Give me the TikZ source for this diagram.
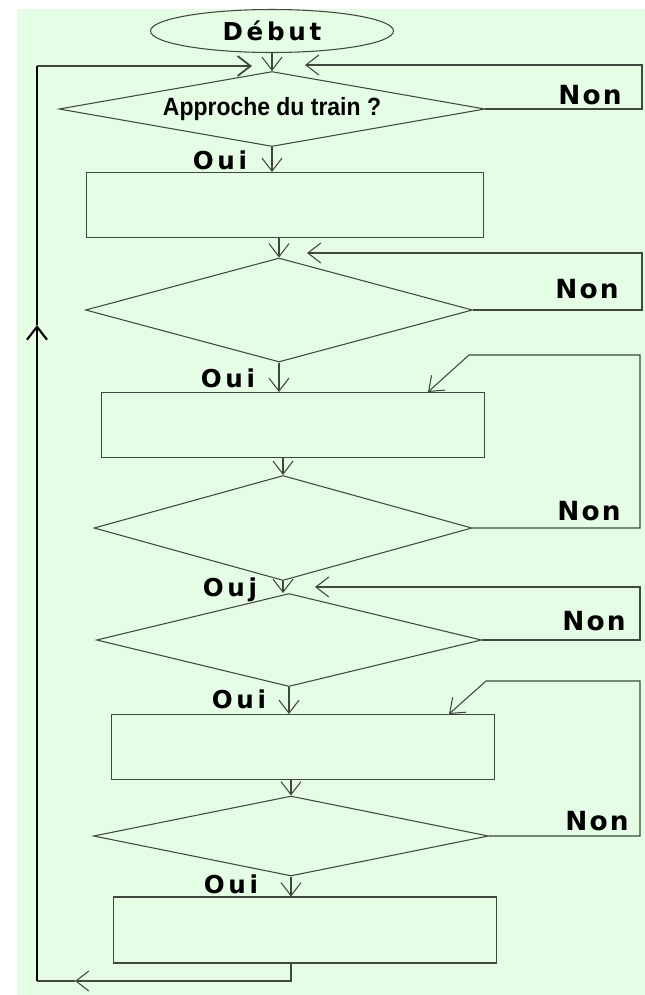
\documentclass[tikz,border=0pt]{standalone}
\usepackage{fontspec}
\setmainfont{Liberation Sans}
\newfontfamily\ouifont{DejaVu Sans Bold}[LetterSpace=15]
\newfontfamily\nonfont{DejaVu Sans Bold}[LetterSpace=8]
\usetikzlibrary{shapes.geometric,arrows.meta}
\definecolor{fond}{RGB}{229,252,229}
\definecolor{trait}{RGB}{62,72,62}

\begin{document}
\begin{tikzpicture}[x=0.02cm,y=-0.02cm,
    >={Straight Barb[length=2.6mm,width=4mm]},
    fl/.style={draw=trait,line width=0.6pt},
    spine/.style={draw=black,line width=1.2pt},
    test/.style={diamond,fl,inner sep=0pt,aspect=5},
    bloc/.style={rectangle,fl,inner sep=0pt,minimum height=1.3cm},
    oui/.style={inner sep=0pt,font=\ouifont\fontsize{14pt}{15pt}\selectfont},
    non/.style={inner sep=0pt,font=\nonfont\fontsize{15pt}{16pt}\selectfont}]
      \useasboundingbox (0,0) rectangle (645,995);
      \fill[fond] (17,9) rectangle (645,995);
      % debut et tests
      \node[ellipse,fl,inner sep=0pt,minimum width=4.86cm,minimum height=0.86cm,
        font=\ouifont\fontsize{14pt}{15pt}\selectfont] at (272,31) (debut) {Début};
      \node[test,minimum width=8.52cm,minimum height=1.5cm,
        font=\bfseries\fontsize{14.2pt}{16pt}\selectfont] at (272,109) (q1)
        {\scalebox{0.92}[1]{Approche du train ?}};
      \node[bloc,minimum width=7.96cm] at (285,205) (r1) {};
      \node[test,minimum width=7.74cm,minimum height=2.08cm] at (279,310) (q2) {};
      \node[bloc,minimum width=7.66cm] at (293,425) (r2) {};
      \node[test,minimum width=7.56cm,minimum height=2.1cm] at (283,528) (q3) {};
      \node[test,minimum width=7.7cm,minimum height=1.86cm] at (289,640) (q4) {};
      \node[bloc,minimum width=7.66cm] at (303,747) (r3) {};
      \node[test,minimum width=7.9cm,minimum height=1.6cm] at (291,836) (q5) {};
      \node[bloc,minimum width=7.68cm,minimum height=1.32cm] at (305,930) (r4) {};
      % oui / non
      \node[oui] at (220,160) (o1) {Oui};
      \node[oui] at (228,378) (o2) {Oui};
      \node[oui] at (230,590) (o3) {Ouj};
      \node[oui] at (239,699) (o4) {Oui};
      \node[oui] at (231,884) (o5) {Oui};
      \node[non] at (590,95) (n1) {Non};
      \node[non] at (587,289) (n2) {Non};
      \node[non] at (589,511) (n3) {Non};
      \node[non] at (594,621) (n4) {Non};
      \node[non] at (597,821) (n5) {Non};
      % points de retour
      \coordinate (lt) at (37,66);
      \coordinate (lup) at (37,325);
      \coordinate (lb) at (37,981);
      \coordinate (ret) at (75,981);
      \coordinate (jl) at (252,66);
      \coordinate (jr) at (305,65);
      \coordinate (c1) at (642,65);
      \coordinate (c2) at (642,253);
      \coordinate (j2) at (307,253);
      \coordinate (c3) at (640,355);
      \coordinate (d3) at (469,355);
      \coordinate (t3) at (428,392);
      \coordinate (c4) at (640,587);
      \coordinate (j4) at (315,587);
      \coordinate (c5) at (640,681);
      \coordinate (d5) at (486,681);
      \coordinate (t5) at (449,714);
      % fleches
      \path[fl,->] (debut) -- (q1);
      \path[fl,->] (q1.south) -- (q1.south |- r1.north);
      \path[fl,->] (r1.south -| q2.north) -- (q2.north);
      \path[fl,->] (q2.south) -- (q2.south |- r2.north);
      \path[fl,->] (r2.south -| q3.north) -- (q3.north);
      \path[fl,->] (q3.south) -- (q3.south |- q4.north);
      \path[fl,->] (q4.south) -- (q4.south |- r3.north);
      \path[fl,->] (r3.south -| q5.north) -- (q5.north);
      \path[fl,->] (q5.south) -- (q5.south |- r4.north);
      \path[fl,->] (r4.south -| q5.south) |- (ret);
      \path[fl] (ret) -- (lb);
      \path[spine,->] (lb) -- (lup);
      \path[spine] (lup) -- (lt);
      \path[fl,line width=1pt,->] (lt) -- (jl);
      \path[fl,->] (q1.east) -| (c1) -- (jr);
      \path[fl,->] (q2.east) -| (c2) -- (j2);
      \path[fl,->] (q3.east) -| (c3) -- (d3) -- (t3);
      \path[fl,->] (q4.east) -| (c4) -- (j4);
      \path[fl,->] (q5.east) -| (c5) -- (d5) -- (t5);
    \end{tikzpicture}
\end{document}
